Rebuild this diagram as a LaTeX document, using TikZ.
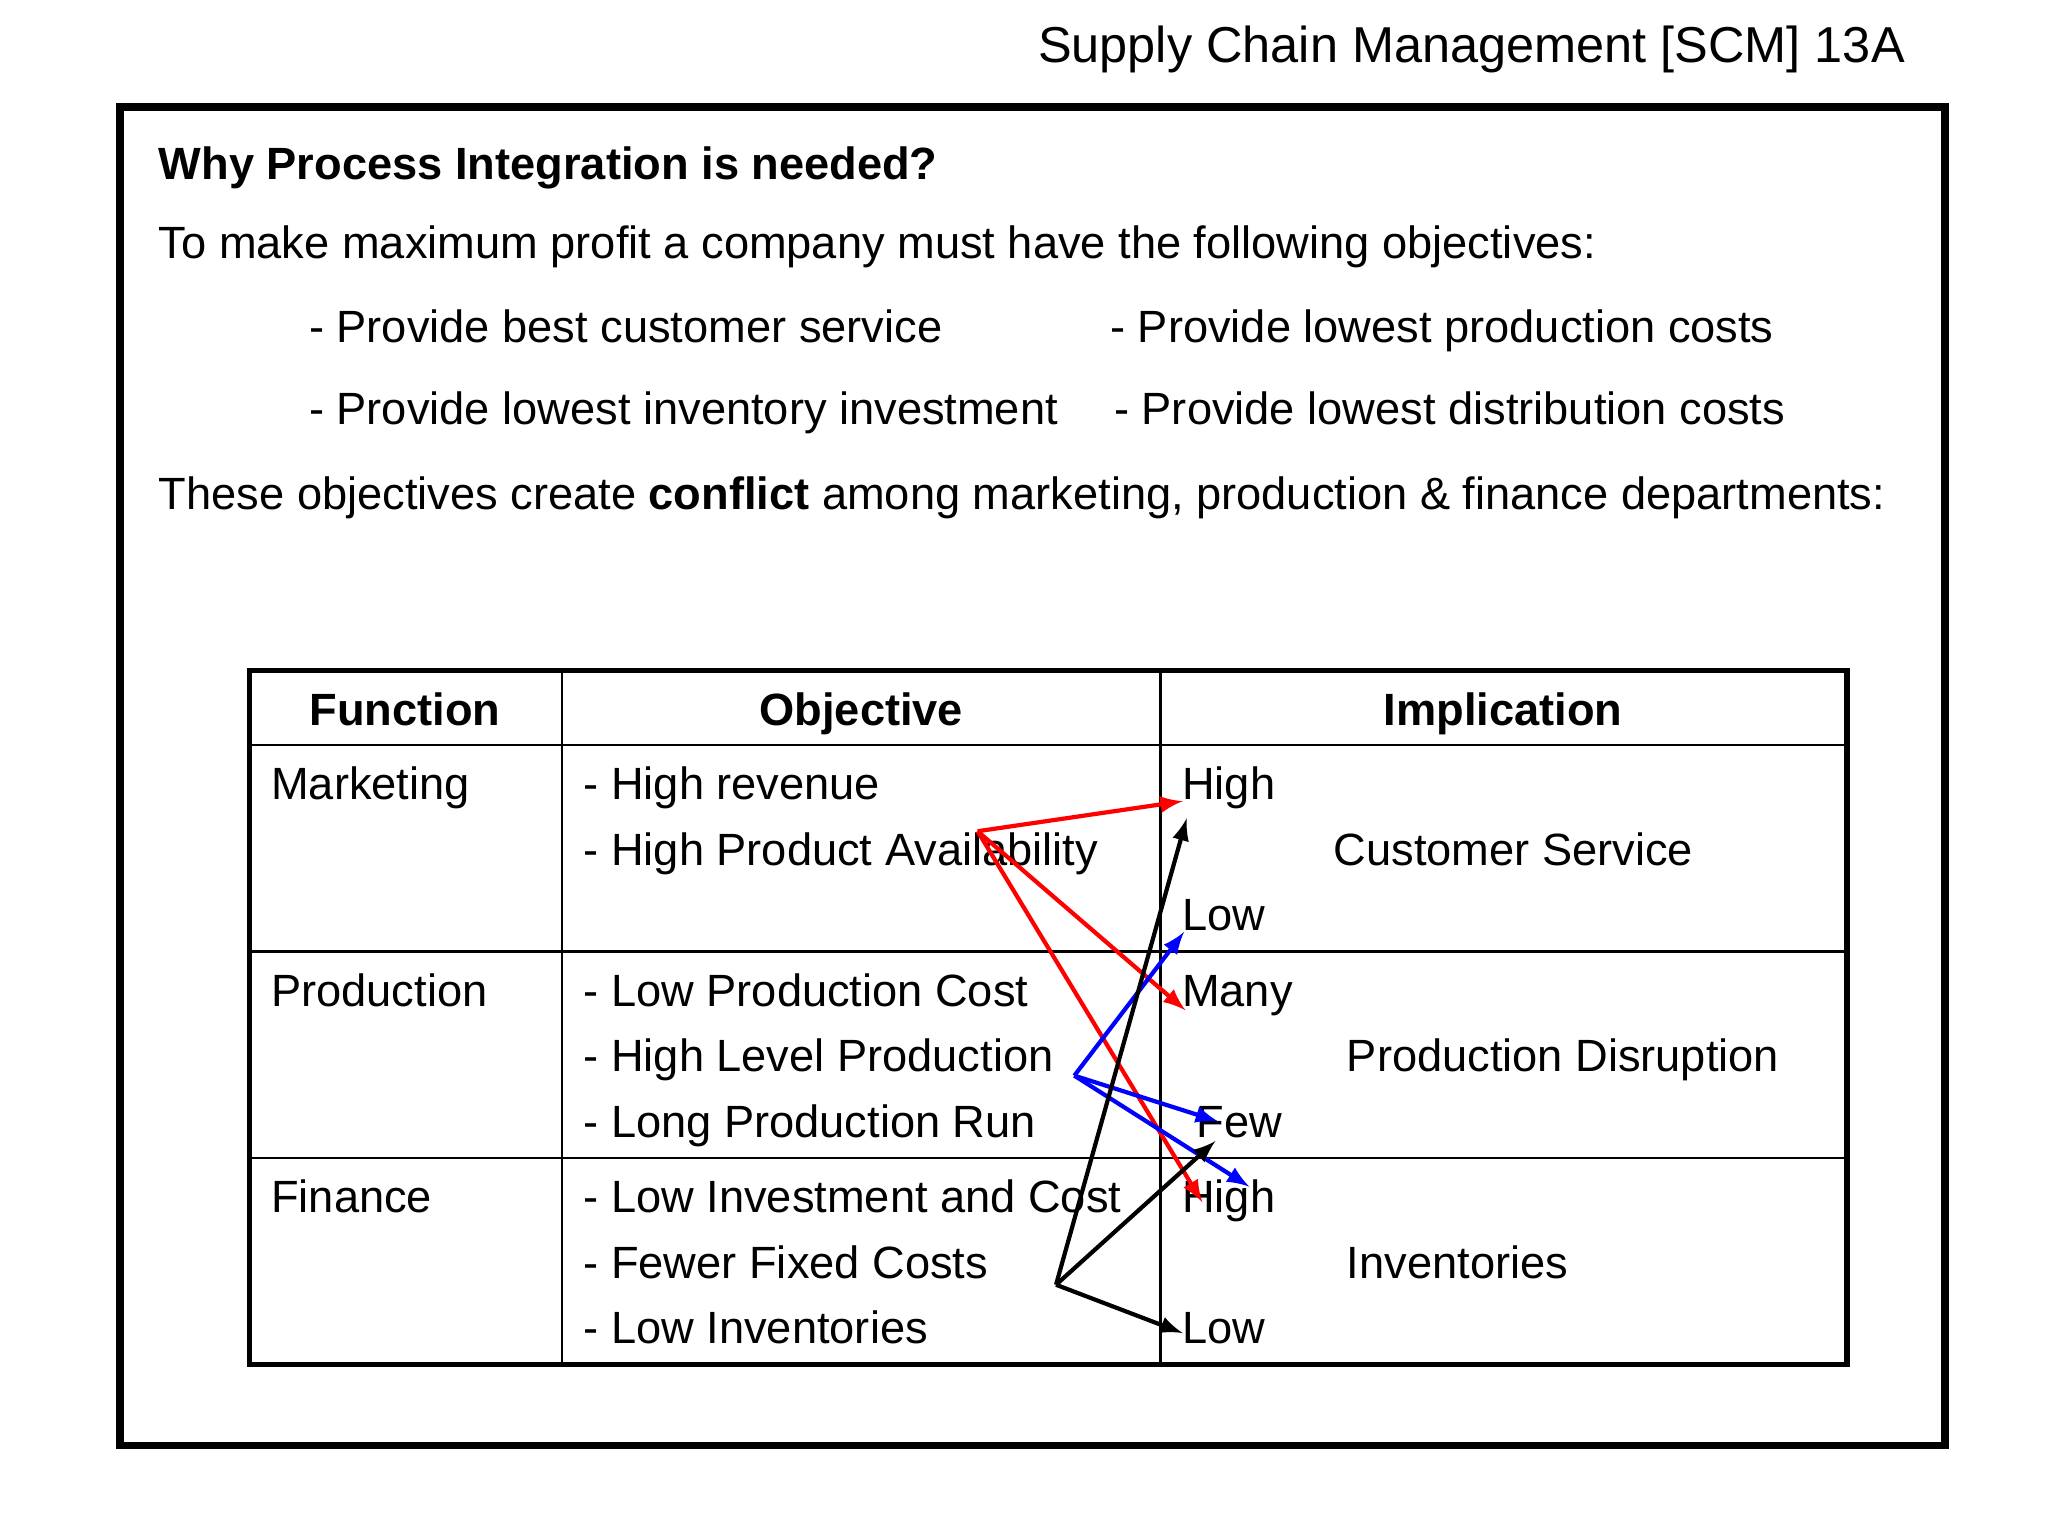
\documentclass[tikz,border=0pt]{standalone}
\usepackage{fontspec}
\setmainfont{Liberation Sans}
\begin{document}
\begin{tikzpicture}[x=0.013111cm,y=-0.013111cm,
  t/.style={anchor=base west,inner sep=0,font=\fontsize{12.9}{14}\selectfont},
  ar/.style={-latex,line width=1.2pt}]
\useasboundingbox (0,0) rectangle (1567,1175);
\node[anchor=base east,inner sep=0,font=\fontsize{14.4}{16}\selectfont] (title) at (1458,48) {Supply Chain Management [SCM] 13A};
\draw[line width=2.2pt] (92,82) rectangle (1488,1106);
\node[t,font=\fontsize{12.9}{14}\selectfont\bfseries] (h) at (121,137) {Why Process Integration is needed?};
\node[t] (l2) at (121,198) {To make maximum profit a company must have the following objectives:};
\node[t] (b1) at (236,262) {- Provide best customer service};
\node[t] (b2) at (849,262) {- Provide lowest production costs};
\node[t] (b3) at (236,325) {- Provide lowest inventory investment};
\node[t] (b4) at (852,325) {- Provide lowest distribution costs};
\node[t] (l3) at (121,390) {These objectives create \textbf{conflict} among marketing, production \& finance departments:};
% table
\draw[line width=0.8pt] (191,570) -- (1413,570) (191,728) -- (1413,728) (191,886) -- (1413,886)
  (430,513) -- (430,1044) (888,513) -- (888,1044);
\draw[line width=1.6pt] (191,513) rectangle (1413,1044);
\node[t,anchor=base,font=\fontsize{12.9}{14}\selectfont\bfseries] (hf) at (310,555) {Function};
\node[t,anchor=base,font=\fontsize{12.9}{14}\selectfont\bfseries] (ho) at (659,555) {Objective};
\node[t,anchor=base,font=\fontsize{12.9}{14}\selectfont\bfseries] (hi) at (1150,555) {Implication};
\node[t] (fm) at (207,612) {Marketing};
\node[t] (fp) at (207,770) {Production};
\node[t] (ff) at (207,928) {Finance};
\node[t] (o1) at (446,612) {- High revenue};
\node[t] (o2) at (446,662) {- High Product Availability};
\node[t] (o3) at (446,770) {- Low Production Cost};
\node[t] (o4) at (446,820) {- High Level Production};
\node[t] (o5) at (446,870) {- Long Production Run};
\node[t] (o6) at (446,928) {- Low Investment and Cost};
\node[t] (o7) at (446,978) {- Fewer Fixed Costs};
\node[t] (o8) at (446,1028) {- Low Inventories};
\node[t] (i1) at (904,612) {High};
\node[t] (i2) at (904,712) {Low};
\node[t] (i3) at (904,770) {Many};
\node[t] (i4) at (915,870) {Few};
\node[t] (i5) at (904,928) {High};
\node[t] (i6) at (904,1028) {Low};
\node[t] (c1) at (1020,662) {Customer Service};
\node[t] (c2) at (1030,820) {Production Disruption};
\node[t] (c3) at (1030,978) {Inventories};
% arrows
\coordinate (r0) at (748,636);
\coordinate (bl0) at (822,823);
\coordinate (k0) at (808,983);
\draw[ar,red] (r0) -- (905,613);
\draw[ar,red] (r0) -- (907,773);
\draw[ar,red] (r0) -- (920,920);
\draw[ar,blue] (bl0) -- (906,713);
\draw[ar,blue] (bl0) -- (932,858);
\draw[ar,blue] (bl0) -- (956,908);
\draw[ar,black] (k0) -- (908,626);
\draw[ar,black] (k0) -- (930,873);
\draw[ar,black] (k0) -- (905,1020);
\end{tikzpicture}
\end{document}
